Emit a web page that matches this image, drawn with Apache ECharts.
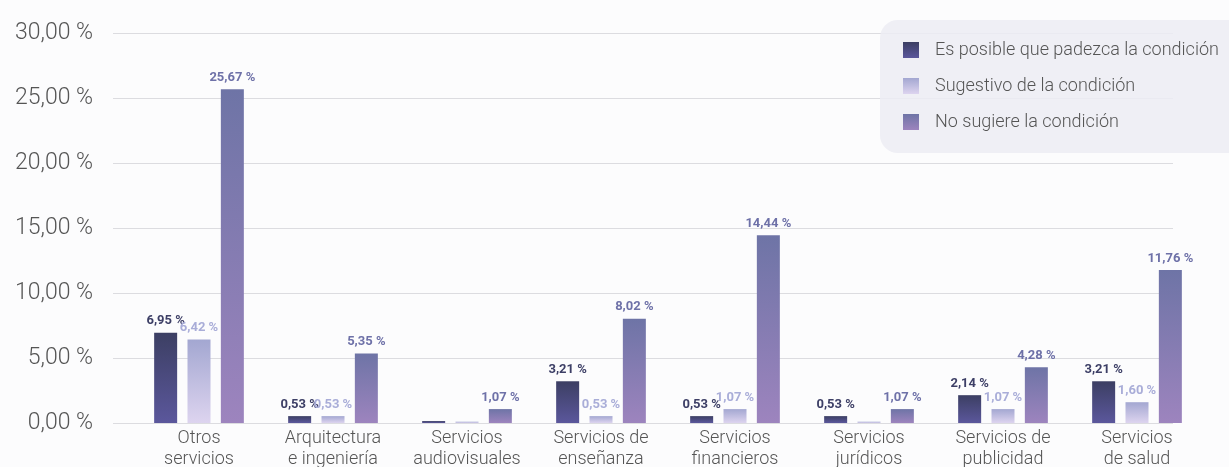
<!DOCTYPE html>
<html>
<head>
<meta charset="utf-8">
<script src="https://cdn.jsdelivr.net/npm/echarts@6/dist/echarts.min.js"></script>
<style>html,body{margin:0;padding:0;background:#fcfcfd;}#c{width:1229px;height:467px;}</style>
</head>
<body>
<div id="c"></div>
<script>
const categories = ['Otros\nservicios', 'Arquitectura\ne ingeniería', 'Servicios\naudiovisuales', 'Servicios de\nenseñanza', 'Servicios\nfinancieros', 'Servicios\njurídicos', 'Servicios de\npublicidad', 'Servicios\nde salud'];
const seriesNames = ['Es posible que padezca la condición', 'Sugestivo de la condición', 'No sugiere la condición'];
const posible = [6.95, 0.53, 0.15, 3.21, 0.53, 0.53, 2.14, 3.21];
const sugestivo = [6.42, 0.53, 0.10, 0.53, 1.07, 0.10, 1.07, 1.60];
const noSugiere = [25.67, 5.35, 1.07, 8.02, 14.44, 1.07, 4.28, 11.76];
const yTicks = [0, 5, 10, 15, 20, 25, 30];

const fmt = v => v.toFixed(2).replace('.', ',') + ' %';
const grad = (a, b) => new echarts.graphic.LinearGradient(0, 0, 0, 1, [{offset: 0, color: a}, {offset: 1, color: b}]);
const colors = [grad('#3c3f63', '#5b579c'), grad('#a3a7d1', '#ddd4ef'), grad('#6e74a6', '#9d84be')];
const labelColors = ['#3d3f66', '#a9add8', '#6e71a8'];
const datas = [posible, sugestivo, noSugiere];

const chart = echarts.init(document.getElementById('c'));
chart.setOption({
  backgroundColor: '#fcfcfd',
  animation: false,
  textStyle: {fontFamily: 'Roboto'},
  legend: {
    left: 880, top: 20,
    orient: 'vertical',
    padding: [21, 40, 22, 23],
    backgroundColor: 'rgba(236,236,243,0.85)',
    borderRadius: 18,
    itemWidth: 16, itemHeight: 16, itemGap: 18,
    icon: 'rect',
    textStyle: {fontSize: 18, color: '#555', fontWeight: 300, padding: [0, 0, 0, 11], fontFamily: 'Roboto'},
    data: seriesNames
  },
  grid: [
    {left: 132, right: 25, top: 33, bottom: 44, outerBoundsMode: 'none', containLabel: false},
    {left: 113, right: 56, top: 33, bottom: 44, outerBoundsMode: 'none', containLabel: false}
  ],
  xAxis: [
    {type: 'category', gridIndex: 0, data: categories,
     axisLine: {show: false}, axisTick: {show: false},
     axisLabel: {fontSize: 18, color: '#555', fontWeight: 300, lineHeight: 21, margin: 5, interval: 0}},
    {type: 'value', gridIndex: 1, show: false, min: 0, max: 1}
  ],
  yAxis: [
    {type: 'value', gridIndex: 0, min: 0, max: 30, interval: 5, show: false},
    {type: 'value', gridIndex: 1, min: 0, max: 30, interval: 5,
     axisLine: {show: false}, axisTick: {show: false},
     splitLine: {lineStyle: {color: '#dcdce0', width: 1}},
     axisLabel: {fontSize: 23, color: '#555', fontWeight: 300, margin: 20,
       formatter: v => yTicks.includes(v) ? fmt(v) : ''}}
  ],
  series: datas.map((d, i) => ({
    name: seriesNames[i],
    type: 'bar',
    xAxisIndex: 0, yAxisIndex: 0,
    data: d,
    barWidth: 23,
    barGap: '45%',
    itemStyle: {color: colors[i]},
    label: {
      show: true, position: 'top', distance: 5,
      fontSize: 13, fontWeight: 'bold', color: labelColors[i], fontFamily: 'Roboto',
      formatter: p => p.value < 0.3 ? '' : fmt(p.value)
    }
  }))
});
</script>
</body>
</html>
